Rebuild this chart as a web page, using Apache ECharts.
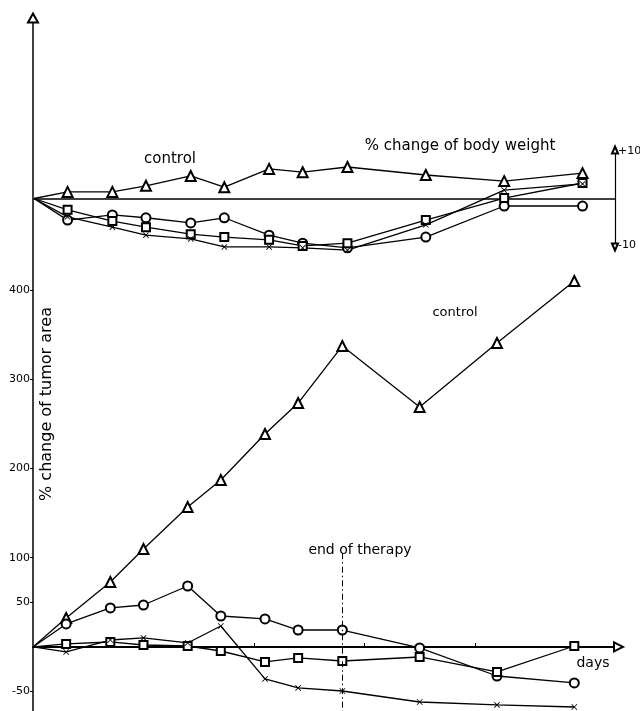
<!DOCTYPE html>
<html>
<head>
<meta charset="utf-8">
<script src="https://cdn.jsdelivr.net/npm/echarts@6/dist/echarts.min.js"></script>
<style>html,body{margin:0;padding:0;background:#fff}#c{width:640px;height:711px}</style>
</head>
<body>
<div id="c"></div>
<script>
// ---- data (days after start) ----
const days = [0, 3, 7, 10, 14, 17, 21, 24, 28, 35, 42, 49];
// % change of body weight (top panel)
const bwControl = [0, 1.4, 1.4, 2.7, 4.8, 2.4, 6.3, 5.6, 6.7, 5.0, 3.7, 5.4];
const bwCircle  = [0, -4.6, -3.5, -4.1, -5.2, -4.1, -7.8, -9.5, -10.5, -8.2, -1.6, -1.6];
const bwSquare  = [0, -2.4, -4.8, -6.1, -7.6, -8.2, -8.8, -10.1, -9.5, -4.6, 0.1, 3.3];
const bwCross   = [0, -3.9, -6.1, -7.8, -8.6, -10.3, -10.3, -10.5, -11.0, -5.6, 1.8, 3.1];
// % change of tumor area (bottom panel)
const taControl = [0, 32.5, 72.8, 109.7, 156.8, 187.0, 238.5, 273.2, 337.1, 268.8, 340.4, 409.9];
const taCircle  = [0, 25.8, 43.7, 47.0, 68.3, 34.7, 31.4, 19.0, 19.0, -1.1, -32.5, -40.3];
const taSquare  = [0, 3.4, 5.6, 2.2, 1.1, -4.5, -16.8, -12.3, -15.7, -11.2, -28.0, 1.1];
const taCross   = [0, -5.6, 7.8, 10.1, 4.5, 23.5, -35.8, -45.9, -49.3, -61.6, -64.9, -67.2];
// tick labels
const xTicks = [10, 20, 30, 40];
const yTicks = [-50, 50, 100, 200, 300, 400];
const bwTicks = [-10, 10];
const therapyEnd = 28;

const FONT = 'DejaVu Sans';
const crossPath = 'path://M0,1L1,0L5,4L9,0L10,1L6,5L10,9L9,10L5,6L1,10L0,9L4,5Z';

function pts(vals) {
  return vals.map((v, i) => i === 0 ? { value: [days[i], v], symbol: 'none' } : [days[i], v]);
}
function mkSeries(name, vals, symbol, size, xi, yi, extra) {
  return Object.assign({
    name, type: 'line', xAxisIndex: xi, yAxisIndex: yi,
    data: pts(vals), symbol, symbolSize: size, clip: false,
    showAllSymbol: true,
    lineStyle: { color: '#000', width: 1.3 },
    itemStyle: { color: '#000', borderColor: '#000', borderWidth: 1.4 },
    emphasis: { disabled: true }, animation: false, z: 3
  }, extra || {});
}

const chart = echarts.init(document.getElementById('c'), null, { renderer: 'canvas' });
const option = {
  backgroundColor: '#fff',
  animation: false,
  grid: [
    { left: 34, right: 25, top: 150, height: 97, outerBoundsMode: 'none', containLabel: false },
    { left: 33, right: 21.5, top: 18, bottom: 0, outerBoundsMode: 'none', containLabel: false }
  ],
  xAxis: [
    { gridIndex: 0, type: 'value', min: 0, max: 51.9,
      axisLine: { show: true, onZero: true, lineStyle: { color: '#000', width: 1.5 } },
      axisTick: { show: false }, axisLabel: { show: false }, splitLine: { show: false } },
    { gridIndex: 1, type: 'value', min: 0, max: 53,
      axisLine: { show: true, onZero: true, symbol: ['none', 'emptyTriangle'], symbolSize: [9, 9],
        lineStyle: { color: '#000', width: 1.8 } },
      axisTick: { show: true, inside: true, length: 4, customValues: xTicks, lineStyle: { color: '#000', width: 1 } },
      axisLabel: { show: true, customValues: xTicks, margin: 5, color: '#000', fontFamily: FONT, fontSize: 11 },
      splitLine: { show: false } }
  ],
  yAxis: [
    { gridIndex: 0, type: 'value', min: -10.32, max: 10.32, show: false },
    { gridIndex: 0, type: 'value', min: -10.32, max: 10.32, position: 'right',
      axisLine: { show: true, symbol: ['emptyTriangle', 'emptyTriangle'], symbolSize: [6, 7],
        lineStyle: { color: '#000', width: 1.2 } },
      axisTick: { show: true, length: 2, customValues: bwTicks, lineStyle: { color: '#000' } },
      axisLabel: { show: true, customValues: bwTicks, margin: 3, color: '#000', fontFamily: FONT, fontSize: 11,
        formatter: v => (v > 0 ? '+' + v : String(v)) },
      splitLine: { show: false } },
    { gridIndex: 1, type: 'value', min: -71.7, max: 704.4,
      axisLine: { show: true, onZero: false, symbol: ['none', 'emptyTriangle'], symbolSize: [10, 9],
        lineStyle: { color: '#000', width: 1.5 } },
      axisTick: { show: true, length: 3, customValues: yTicks, lineStyle: { color: '#000' } },
      axisLabel: { show: true, customValues: yTicks, margin: 3, color: '#000', fontFamily: FONT, fontSize: 11 },
      splitLine: { show: false } }
  ],
  series: [
    mkSeries('bw control', bwControl, 'emptyTriangle', 10, 0, 0),
    mkSeries('bw circle', bwCircle, 'emptyCircle', 9, 0, 0),
    mkSeries('bw square', bwSquare, 'emptyRect', 8, 0, 0),
    mkSeries('bw cross', bwCross, crossPath, 6, 0, 0, { itemStyle: { color: '#000', borderWidth: 0 } }),
    mkSeries('ta control', taControl, 'emptyTriangle', 10, 1, 2, {
      markLine: {
        silent: true, symbol: 'none', animation: false,
        label: { show: false },
        lineStyle: { color: '#000', width: 1, type: [6, 3, 1.5, 3] },
        data: [[{ coord: [therapyEnd, 105] }, { coord: [therapyEnd, -71.7] }]]
      }
    }),
    mkSeries('ta circle', taCircle, 'emptyCircle', 9, 1, 2),
    mkSeries('ta square', taSquare, 'emptyRect', 8, 1, 2),
    mkSeries('ta cross', taCross, crossPath, 6, 1, 2, { itemStyle: { color: '#000', borderWidth: 0 } })
  ],
  graphic: [
    { type: 'text', x: 170, y: 159, style: { text: 'control', font: '15px "DejaVu Sans"', fill: '#000', align: 'center', verticalAlign: 'middle' } },
    { type: 'text', x: 460, y: 146, style: { text: '% change of body weight', font: '15px "DejaVu Sans"', fill: '#000', align: 'center', verticalAlign: 'middle' } },
    { type: 'text', x: 455, y: 313, style: { text: 'control', font: '13px "DejaVu Sans"', fill: '#000', align: 'center', verticalAlign: 'middle' } },
    { type: 'text', x: 360, y: 550, style: { text: 'end of therapy', font: '14px "DejaVu Sans"', fill: '#000', align: 'center', verticalAlign: 'middle', backgroundColor: 'rgba(0,0,0,0)' } },
    { type: 'text', x: 593, y: 663, style: { text: 'days', font: '14px "DejaVu Sans"', fill: '#000', align: 'center', verticalAlign: 'middle' } },
    { type: 'text', x: 47, y: 404, rotation: Math.PI / 2, style: { text: '% change of tumor area', font: '16px "DejaVu Sans"', fill: '#000', align: 'center', verticalAlign: 'middle' } }
  ]
};
chart.setOption(option);
</script>
</body>
</html>
